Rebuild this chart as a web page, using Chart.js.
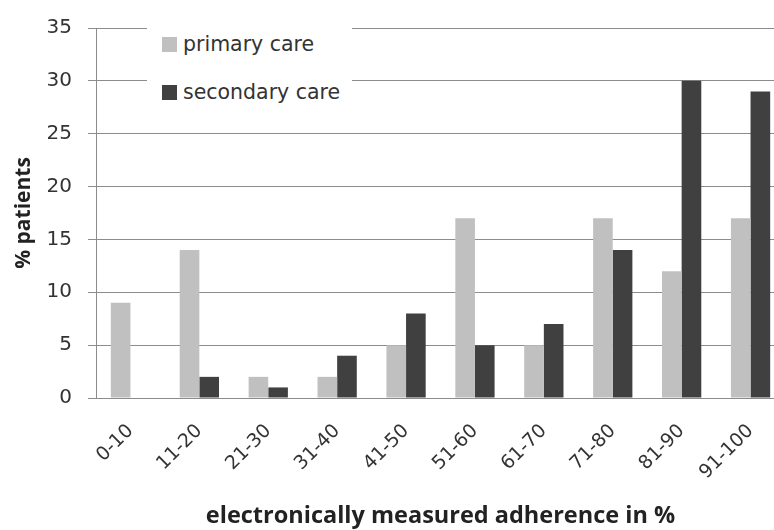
<!DOCTYPE html>
<html>
<head>
<meta charset="utf-8">
<script src="https://cdn.jsdelivr.net/npm/chart.js@4"></script>
<style>
  html, body { margin: 0; padding: 0; background: #fff; overflow: hidden; }
  #wrap { position: relative; width: 785px; height: 530px; }
  #legend { position: absolute; left: 147px; top: 14px; width: 205px; height: 104px; background: #fff;
            font-family: "DejaVu Sans", sans-serif; font-size: 20.5px; color: #333; }
  .item { position: absolute; left: 15px; display: flex; align-items: center; white-space: nowrap; }
  .sw { width: 15px; height: 15px; margin-right: 6px; }
</style>
</head>
<body>
<div id="wrap">
  <canvas id="c"></canvas>
  <div id="legend"></div>
</div>
<script>
const categories = ["0-10", "11-20", "21-30", "31-40", "41-50", "51-60", "61-70", "71-80", "81-90", "91-100"];
const primaryCare = [9, 14, 2, 2, 5, 17, 5, 17, 12, 17];
const secondaryCare = [0, 2, 1, 4, 8, 5, 7, 14, 30, 29];
const seriesNames = ["primary care", "secondary care"];
const seriesColors = ["#c0c0c0", "#404040"];
const yTicks = [0, 5, 10, 15, 20, 25, 30, 35];
const xTitle = "electronically measured adherence in %";
const yTitle = "% patients";

const gridColor = "#8c8c8c";

const chart = new Chart(document.getElementById("c"), {
  type: "bar",
  data: {
    labels: categories,
    datasets: [
      { label: seriesNames[0], data: primaryCare, backgroundColor: seriesColors[0] },
      { label: seriesNames[1], data: secondaryCare, backgroundColor: seriesColors[1] }
    ]
  },
  options: {
    responsive: true,
    maintainAspectRatio: false,
    animation: false,
    layout: { padding: { top: 21, left: 0, right: 0, bottom: 0 } },
    datasets: { bar: { categoryPercentage: 0.57, barPercentage: 1.0 } },
    plugins: { legend: { display: false }, tooltip: { enabled: false } },
    scales: {
      x: {
        grid: { display: false },
        border: { display: true, color: gridColor, width: 1 },
        ticks: {
          minRotation: 45, maxRotation: 45, padding: 14,
          color: "#333",
          font: { family: "DejaVu Sans", size: 19 }
        },
        title: {
          display: true, text: xTitle, color: "#222",
          font: { family: "Open Sans", size: 23.5, weight: "bold" },
          padding: { top: 4, bottom: 0 }
        },
        afterFit: (s) => { s.height = 132; }
      },
      y: {
        min: 0, max: 35,
        afterBuildTicks: (s) => { s.ticks = yTicks.map(v => ({ value: v })); },
        grid: { color: gridColor, lineWidth: 1, tickLength: 8, drawTicks: true },
        border: { display: true, color: gridColor, width: 1 },
        ticks: {
          padding: 16, color: "#333",
          font: { family: "DejaVu Sans", size: 20 }
        },
        title: {
          display: true, text: yTitle, color: "#222",
          font: { family: "Open Sans", size: 21, weight: "bold" },
          padding: { top: 11, bottom: 0 }
        },
        afterFit: (s) => { s.width = 96; }
      }
    }
  }
});

const leg = document.getElementById("legend");
chart.data.datasets.forEach((ds, i) => {
  const it = document.createElement("div");
  it.className = "item";
  it.style.top = (i === 0 ? 18 : 66) + "px";
  const sw = document.createElement("span");
  sw.className = "sw";
  sw.style.background = ds.backgroundColor;
  const tx = document.createElement("span");
  tx.textContent = ds.label;
  it.appendChild(sw); it.appendChild(tx);
  leg.appendChild(it);
});
</script>
</body>
</html>
